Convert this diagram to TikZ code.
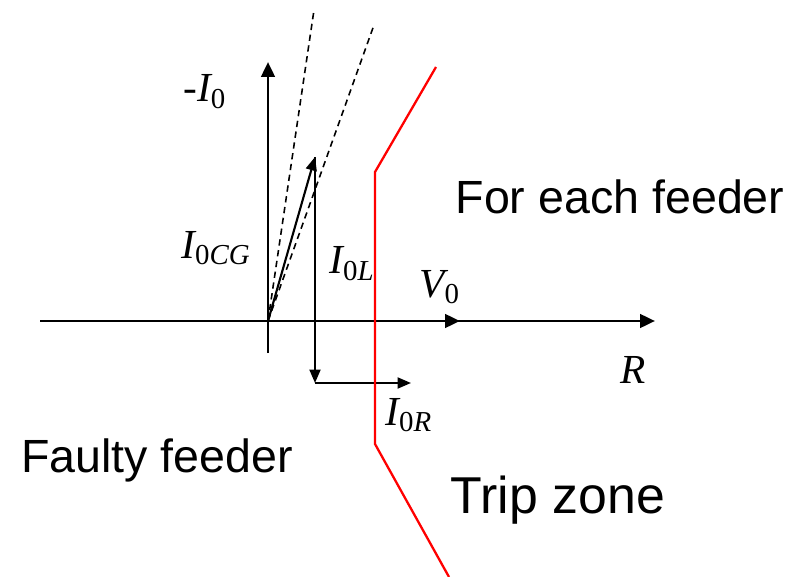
\documentclass[tikz,border=0pt]{standalone}
\usepackage{fontspec}
\setmainfont{Liberation Serif}
\newfontfamily\zonefont{Liberation Sans}
\usetikzlibrary{arrows.meta}
\definecolor{ZoneRed}{HTML}{FF0000}
\newcommand{\phasor}[2]{{\itshape #1}\textsubscript{#2}}

\begin{document}
\begin{tikzpicture}[x=0.02cm,y=-0.02cm,
    axis/.style={line width=1.7pt,-{Triangle[length=0.3cm,width=0.27cm]}},
    vec/.style={line width=1.2pt,-{Triangle[length=0.27cm,width=0.22cm]}},
    guide/.style={line width=0.9pt,dash pattern=on 3.6pt off 2.6pt},
    zone/.style={line width=1.3pt,ZoneRed,line join=miter},
    lbl/.style={inner sep=0pt,anchor=base west,font=\fontsize{23.5}{28}\selectfont},
    txt/.style={inner sep=0pt,anchor=base,font=\zonefont\fontsize{26.5}{32}\selectfont}
  ]
    \useasboundingbox (0,0) rectangle (800,577);
    % axes
    \coordinate (O) at (268,321);
    \coordinate (xl) at (40,321);
    \coordinate (xr) at (655,321);
    \coordinate (yb) at (268,353);
    \coordinate (yt) at (268,62);
    \coordinate (v0) at (460,321);
    \draw[axis] (xl) -- (xr);
    \draw[axis] (yb) -- (yt);
    \draw[axis] (O) -- (v0);
    % phasors
    \coordinate (cg) at (315,157);
    \coordinate (lo) at (315,383);
    \coordinate (re) at (411,383);
    \draw[guide] (O) -- (314,10);
    \draw[guide] (O) -- (374,25);
    \draw[vec] (O) -- (cg);
    \draw[vec] (cg) -- (lo);
    \draw[vec] (lo) -- (re);
    % trip characteristic
    \coordinate (z1) at (436,67);
    \coordinate (z2) at (375,172);
    \coordinate (z3) at (375,444);
    \coordinate (z4) at (449,577);
    \draw[zone] (z1) -- (z2) -- (z3) -- (z4);
    % labels
    \node[lbl] (mi0) at (183,102) {-\phasor{I}{0}};
    \node[lbl] (i0cg) at (181,258) {\phasor{I}{0\itshape CG}};
    \node[lbl] (i0l) at (329,274) {\phasor{I}{0\itshape L}};
    \node[lbl] (v0l) at (419,297) {\phasor{V}{0}};
    \node[lbl] (rl) at (620,383) {\itshape R};
    \node[lbl] (i0r) at (385,425) {\phasor{I}{0\itshape R}};
    \node[txt] (each) at (620,214) {For each feeder};
    \node[txt] (faulty) at (157,472) {Faulty feeder};
    \node[txt,font=\zonefont\fontsize{29.5}{35}\selectfont] (trip) at (558,513) {Trip zone};
  \end{tikzpicture}
\end{document}
